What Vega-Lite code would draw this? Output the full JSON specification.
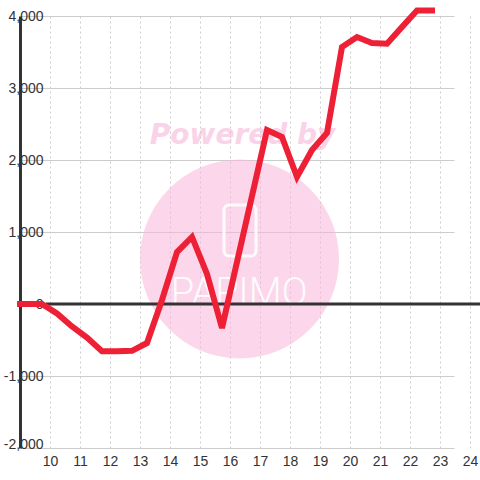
{
  "$schema": "https://vega.github.io/schema/vega-lite/v6.json",
  "width": 434,
  "height": 432,
  "autosize": {"type": "none"},
  "padding": {"left": 46, "top": 16, "right": 0, "bottom": 32},
  "background": "white",
  "config": {
    "view": {"stroke": null},
    "axis": {"labelOverlap": false, "labelFlush": false, "labelBound": false, "labelSeparation": 0},
    "axisX": {
      "values": [10, 11, 12, 13, 14, 15, 16, 17, 18, 19, 20, 21, 22, 23, 24],
      "tickCount": 15,
      "title": null, "domain": false, "ticks": false, "tickSize": 0,
      "labelPadding": 6, "labelFontSize": 14, "labelFont": "Liberation Sans", "labelColor": "#333333",
      "labelOverlap": false,
      "grid": true, "gridColor": "#cccccc", "gridWidth": 1, "gridDash": [2, 3]
    },
    "axisY": {
      "title": null, "offset": 26, "domain": true, "domainColor": "#333333", "domainWidth": 3,
      "ticks": false, "tickSize": 0, "labelPadding": -23, "labelAlign": "right",
      "labelFontSize": 14, "labelFont": "Liberation Sans", "labelColor": "#333333",
      "labelOverlap": false,
      "grid": true, "gridColor": "#cccccc", "gridWidth": 1
    }
  },
  "data": {"values": [{"k": 1}]},
  "layer": [
    {
      "mark": {"type": "point", "shape": "circle", "filled": true, "color": "#f9b6dc", "opacity": 0.55, "size": 39600, "strokeWidth": 0},
      "encoding": {
        "x": {"datum": 16.317, "type": "quantitative"},
        "y": {"datum": 625, "type": "quantitative"}
      }
    },
    {
      "mark": {"type": "text", "text": "Powered by", "font": "DejaVu Sans", "fontWeight": "bold", "fontStyle": "italic", "fontSize": 28, "align": "center", "baseline": "alphabetic", "color": "#f9b6dc", "opacity": 0.6},
      "encoding": {
        "x": {"datum": 16.417, "type": "quantitative"},
        "y": {"datum": 2222, "type": "quantitative"}
      }
    },
    {
      "mark": {"type": "rect", "fill": "white", "fillOpacity": 0, "stroke": "white", "strokeWidth": 3, "strokeOpacity": 0.9, "cornerRadius": 5},
      "encoding": {
        "x": {"datum": 15.8, "type": "quantitative"},
        "x2": {"datum": 16.867},
        "y": {"datum": 667, "type": "quantitative"},
        "y2": {"datum": 1375}
      }
    },
    {
      "mark": {"type": "text", "text": "PAPIMO", "font": "Roboto", "fontWeight": 300, "fontSize": 38, "align": "center", "baseline": "alphabetic", "color": "white", "opacity": 0.9},
      "encoding": {
        "x": {"datum": 16.3, "type": "quantitative"},
        "y": {"datum": -10, "type": "quantitative"}
      }
    },
    {
      "mark": {"type": "rule", "color": "#333333", "strokeWidth": 3},
      "encoding": {"y": {"datum": 0, "type": "quantitative"}}
    },
    {
      "data": {
        "values": [
          {"t": 9.0, "v": 0},
          {"t": 9.733, "v": 0},
          {"t": 10.233, "v": -132},
          {"t": 10.733, "v": -312},
          {"t": 11.233, "v": -465},
          {"t": 11.733, "v": -655},
          {"t": 12.233, "v": -655},
          {"t": 12.733, "v": -650},
          {"t": 13.233, "v": -542},
          {"t": 13.733, "v": 56},
          {"t": 14.233, "v": 722},
          {"t": 14.733, "v": 931},
          {"t": 15.233, "v": 417},
          {"t": 15.733, "v": -333},
          {"t": 16.233, "v": 583},
          {"t": 16.733, "v": 1500},
          {"t": 17.233, "v": 2417},
          {"t": 17.733, "v": 2319},
          {"t": 18.233, "v": 1764},
          {"t": 18.733, "v": 2139},
          {"t": 19.233, "v": 2375},
          {"t": 19.733, "v": 3570},
          {"t": 20.233, "v": 3708},
          {"t": 20.733, "v": 3625},
          {"t": 21.233, "v": 3615},
          {"t": 21.733, "v": 3847},
          {"t": 22.233, "v": 4075},
          {"t": 22.733, "v": 4075}
        ]
      },
      "mark": {"type": "line", "color": "#ee2035", "strokeWidth": 6, "strokeCap": "square", "strokeJoin": "miter"},
      "encoding": {
        "x": {
          "field": "t", "type": "quantitative",
          "scale": {"domain": [9.8667, 24.3333], "nice": false, "zero": false},
          "axis": {
            "values": [10, 11, 12, 13, 14, 15, 16, 17, 18, 19, 20, 21, 22, 23, 24],
            "labelOverlap": false, "title": null
          }
        },
        "y": {
          "field": "v", "type": "quantitative",
          "scale": {"domain": [-2000, 4000], "nice": false, "zero": false},
          "axis": {
            "values": [-2000, -1500, -1000, -500, 0, 500, 1000, 1500, 2000, 2500, 3000, 3500, 4000],
            "labelExpr": "datum.value % 1000 == 0 ? (datum.value < 0 ? '-' + format(-datum.value, ',') : format(datum.value, ',')) : ''",
            "labelBaseline": {"condition": {"test": "datum.value == -2000", "value": "alphabetic"}, "value": "middle"},
            "title": null
          }
        }
      }
    }
  ]
}
